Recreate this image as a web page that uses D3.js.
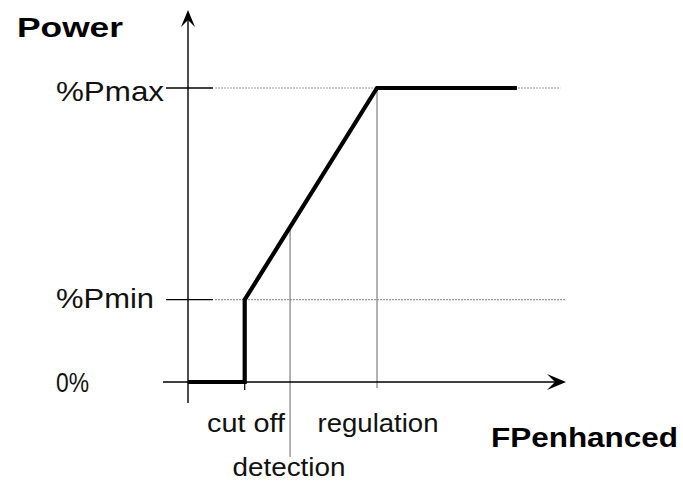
<!DOCTYPE html>
<html>
<head>
<meta charset="utf-8">
<script src="https://cdn.jsdelivr.net/npm/d3@7"></script>
<style>
  html, body { margin: 0; padding: 0; background: #fff; }
  svg { display: block; font-family: "Liberation Sans", Arial, sans-serif; }
</style>
</head>
<body>
<svg id="chart" width="683" height="486"></svg>
<script>
// Power levels on the vertical axis (% of maximum power)
const levelLabels = ["0%", "%Pmin", "%Pmax"];
const levelValues = [0, 28, 100];

// Characteristic points on the FPenhanced axis
const fpLabels = ["cut off", "detection", "regulation"];
const fpValues = [1.5, 2.7, 5];

// Power curve: off below cut off, jump to Pmin, linear ramp to Pmax, then flat
const curveFP = [0, 1.5, 1.5, 5, 8.7];
const curvePower = [0, 0, 28, 100, 100];

// Extent of the dotted reference lines for the Pmin / Pmax levels
const refLineEnd = [10, 9.85];

const svg = d3.select("#chart");
const x = d3.scaleLinear().domain([0, 10]).range([188, 566]);
const y = d3.scaleLinear().domain([0, 100]).range([382, 88]);

const ink = "#000";

// Power on the ramp between cut off and regulation
const ramp = d3.scaleLinear().domain([curveFP[2], curveFP[3]]).range([curvePower[2], curvePower[3]]);

// Dotted level lines (Pmin, Pmax)
[1, 2].forEach((i, k) => {
  svg.append("line")
    .attr("x1", x(0) + 27).attr("x2", x(refLineEnd[k]))
    .attr("y1", y(levelValues[i])).attr("y2", y(levelValues[i]))
    .attr("stroke", "#9a9a9a").attr("stroke-width", 1.2)
    .attr("stroke-dasharray", "2,1");
});

// Solid level ticks crossing the vertical axis
[1, 2].forEach(i => {
  svg.append("line")
    .attr("x1", x(0) - 22).attr("x2", x(0) + 25)
    .attr("y1", y(levelValues[i])).attr("y2", y(levelValues[i]))
    .attr("stroke", ink).attr("stroke-width", 1.3);
});

// Thin vertical guides for detection and regulation
svg.append("line")
  .attr("x1", x(fpValues[1])).attr("x2", x(fpValues[1]))
  .attr("y1", y(ramp(fpValues[1])))
  .attr("y2", y(0) + 75)
  .attr("stroke", "#666").attr("stroke-width", 1);
svg.append("line")
  .attr("x1", x(fpValues[2])).attr("x2", x(fpValues[2]))
  .attr("y1", y(ramp(fpValues[2]))).attr("y2", y(0) + 6)
  .attr("stroke", "#666").attr("stroke-width", 1);

// Cut off tick below the horizontal axis
svg.append("line")
  .attr("x1", x(fpValues[0])).attr("x2", x(fpValues[0]))
  .attr("y1", y(0)).attr("y2", y(0) + 8)
  .attr("stroke", ink).attr("stroke-width", 1.2);

// Axes
svg.append("line")
  .attr("x1", x(0)).attr("x2", x(0))
  .attr("y1", y(0) + 21).attr("y2", 14)
  .attr("stroke", ink).attr("stroke-width", 1.4);
svg.append("line")
  .attr("x1", x(0) - 25).attr("x2", x(10) - 2)
  .attr("y1", y(0)).attr("y2", y(0))
  .attr("stroke", ink).attr("stroke-width", 1.4);

// Arrow heads
const ax = x(0), ayTop = 10;
svg.append("path")
  .attr("d", `M${ax},${ayTop} L${ax - 7},${ayTop + 17} L${ax},${ayTop + 10} L${ax + 7},${ayTop + 17} Z`)
  .attr("fill", ink);
const bx = x(10), by = y(0);
svg.append("path")
  .attr("d", `M${bx},${by} L${bx - 19},${by - 8} L${bx - 11},${by} L${bx - 19},${by + 8} Z`)
  .attr("fill", ink);

// Power curve
const line = d3.line().x(d => x(d[0])).y(d => y(d[1]));
svg.append("path")
  .datum(curveFP.map((f, i) => [f, curvePower[i]]))
  .attr("d", line)
  .attr("fill", "none")
  .attr("stroke", ink)
  .attr("stroke-width", 4.2)
  .attr("stroke-linejoin", "miter");

// Level labels
const levelBaseline = [392, 308, 101];
const levelWidth = [33, 98, 108];
levelLabels.forEach((t, i) => {
  svg.append("text")
    .attr("x", 56).attr("y", levelBaseline[i])
    .attr("font-size", 28)
    .attr("textLength", levelWidth[i])
    .attr("lengthAdjust", "spacingAndGlyphs")
    .attr("fill", "#111")
    .text(t);
});

// FPenhanced point labels
const fpLabelX = [246, 289, 378];
const fpLabelY = [432, 476, 432];
const fpLabelW = [78, 113, 121];
fpLabels.forEach((t, i) => {
  svg.append("text")
    .attr("x", fpLabelX[i]).attr("y", fpLabelY[i])
    .attr("text-anchor", "middle")
    .attr("font-size", 26)
    .attr("textLength", fpLabelW[i])
    .attr("lengthAdjust", "spacingAndGlyphs")
    .attr("fill", "#111")
    .text(t);
});

// Axis titles
svg.append("text")
  .attr("x", 17).attr("y", 37)
  .attr("font-size", 27).attr("font-weight", "bold")
  .attr("textLength", 106).attr("lengthAdjust", "spacingAndGlyphs")
  .attr("fill", "#000")
  .text("Power");
svg.append("text")
  .attr("x", 491).attr("y", 447)
  .attr("font-size", 27).attr("font-weight", "bold")
  .attr("textLength", 187).attr("lengthAdjust", "spacingAndGlyphs")
  .attr("fill", "#000")
  .text("FPenhanced");
</script>
</body>
</html>
